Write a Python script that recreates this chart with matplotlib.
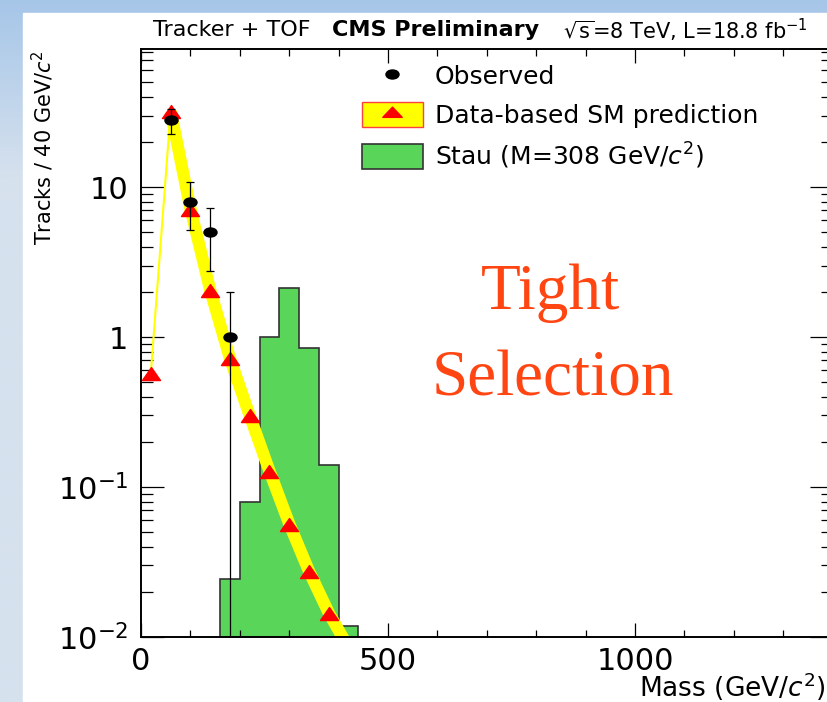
import numpy as np
import matplotlib as mpl
import matplotlib.pyplot as plt
from matplotlib.path import Path
from matplotlib.patches import Patch, Rectangle
from matplotlib.lines import Line2D
from matplotlib.ticker import FixedLocator, FixedFormatter, NullFormatter, MultipleLocator, LogLocator

plt.rcParams['font.family'] = ['DejaVu Sans']
plt.rcParams['mathtext.fontset'] = 'dejavusans'

# Beobachtete Spuren pro 40-GeV-Bin mit Poisson-Fehlern
obs_m = [60, 100, 140, 180]
obs_n = [28, 8, 5, 1]
obs_err = [5.3, 2.83, 2.24, 1.0]

# Datenbasierte SM-Vorhersage
pred_m = [20, 60, 100, 140, 180, 220, 260, 300, 340, 380, 420]
pred_n = [0.58, 32, 7.2, 2.06, 0.72, 0.30, 0.128, 0.057, 0.0275, 0.0145, 0.0085]

# Stau-Signal (M = 308 GeV/c^2) als Histogramm
stau_edges = [160, 200, 240, 280, 320, 360, 400, 440]
stau_n = [0.0243, 0.0798, 1.0, 2.13, 0.84, 0.140, 0.0118]

y_ticks = [0.01, 0.1, 1, 10]
y_labels = [r'$\mathdefault{10^{-2}}$', r'$\mathdefault{10^{-1}}$', '1', '10']
x_ticks = [0, 500, 1000]

green = '#59d55a'

W, H = 828, 702
fig = plt.figure(figsize=(W / 100, H / 100), dpi=100)

# Folienhintergrund: blauer Verlauf, darauf die weisse Leinwand
bg = fig.add_axes([0, 0, 1, 1], zorder=-10)
t = np.linspace(0, 1, 256)[:, None, None]
top_c = np.array(mpl.colors.to_rgb('#a6c6e8'))
low_c = np.array(mpl.colors.to_rgb('#d6e1ee'))
grad = top_c * (1 - np.clip(t * 4, 0, 1)) + low_c * np.clip(t * 4, 0, 1)
bg.imshow(np.repeat(grad, 4, axis=1), aspect='auto', extent=[0, 1, 0, 1])
bg.add_patch(Rectangle((23 / W, 0), 1, 1 - 13 / H, color='white'))
bg.set_xlim(0, 1)
bg.set_ylim(0, 1)
bg.axis('off')

x0, x1 = 141, 832.6
y0, y1 = 637, 48.5
ax = fig.add_axes([x0 / W, 1 - y0 / H, (x1 - x0) / W, (y0 - y1) / H])
ax.set_yscale('log')
ax.set_xlim(0, 1400)
ax.set_ylim(0.01, 84)

# Marker: Ellipse fuer Daten, Dreieck fuer Vorhersage
circ = Path.unit_circle()
dot = Path(circ.vertices * [1, 0.69], circ.codes)
tri = Path([(-1, -0.78), (1, -0.78), (0, 0.66), (-1, -0.78)],
           [Path.MOVETO, Path.LINETO, Path.LINETO, Path.CLOSEPOLY])
tri_leg = Path([(-1, -0.5), (1, -0.5), (0, 0.55), (-1, -0.5)],
               [Path.MOVETO, Path.LINETO, Path.LINETO, Path.CLOSEPOLY])

ax.stairs(stau_n, stau_edges, baseline=1e-4, fill=True, facecolor=green,
          edgecolor='#333333', lw=1.2, zorder=1)

ax.plot(pred_m[:2], pred_n[:2], color='#ffff00', lw=1.5, zorder=2)
ax.plot(pred_m[1:], pred_n[1:], color='#ffff00', lw=8.8,
        solid_joinstyle='round', solid_capstyle='butt', zorder=2)
ax.plot(pred_m, pred_n, ls='none', marker=tri, ms=13, color='#ff0000', zorder=3)

ax.errorbar(obs_m, obs_n, yerr=[obs_err, obs_err], fmt='none', ecolor='k',
            elinewidth=0.9, capsize=2.9, capthick=0.9, zorder=4)
ax.plot(obs_m, obs_n, ls='none', marker=dot, ms=9.4, color='k', zorder=5)

# Achsen im ROOT-Stil
for s in ax.spines.values():
    s.set_linewidth(1.4)
ax.xaxis.set_major_locator(FixedLocator(x_ticks))
ax.xaxis.set_minor_locator(MultipleLocator(100))
ax.yaxis.set_major_locator(FixedLocator(y_ticks))
ax.yaxis.set_major_formatter(FixedFormatter(y_labels))
ax.yaxis.set_minor_locator(LogLocator(base=10, subs=np.arange(2, 10)))
ax.yaxis.set_minor_formatter(NullFormatter())
ax.tick_params(which='both', direction='in', top=True, right=True, width=0.9,
               labelsize=22)
ax.tick_params(axis='y', which='major', length=16.5, pad=9)
ax.tick_params(axis='y', which='minor', length=8.6)
ax.tick_params(axis='x', which='major', length=10, pad=7)
ax.tick_params(axis='x', which='minor', length=5)

fig.text(43 / W, 1 - 50 / H, r'Tracks / 40 GeV/$c^{2}$', rotation=90,
         ha='center', va='top', fontsize=15)
fig.text(826 / W, 1 - 687 / H, r'Mass (GeV/$c^{2}$)', ha='right',
         va='center', fontsize=19)

# Kopfzeile
fig.text(153 / W, 1 - 30 / H, 'Tracker + TOF', ha='left', va='center', fontsize=16)
fig.text(332 / W, 1 - 30 / H, 'CMS Preliminary', ha='left', va='center',
         fontsize=16, fontweight='bold')
fig.text(563 / W, 1 - 30 / H, r'$\sqrt{\mathdefault{s}}$=8 TeV, L=18.8 fb$^{-1}$',
         ha='left', va='center', fontsize=15)

fig.text(551 / W, 1 - 309 / H, 'Tight', ha='center', va='baseline',
         fontsize=47, family='Liberation Serif', color='#ff4512')
fig.text(553 / W, 1 - 396 / H, 'Selection', ha='center', va='baseline',
         fontsize=47, family='Liberation Serif', color='#ff4512')

handles = [
    Line2D([], [], ls='none', marker=dot, ms=9.4, color='k'),
    (Patch(facecolor='#ffff00', edgecolor='#ff4040', lw=1.0),
     Line2D([], [], ls='none', marker=tri_leg, ms=14, color='#ff0000')),
    Patch(facecolor=green, edgecolor='#333333', lw=1.2),
]
labels = ['Observed', 'Data-based SM prediction', r'Stau (M=308 GeV/$c^{2}$)']
fs = 18 * 100 / 72
ax.legend(handles, labels, loc='upper left',
          bbox_to_anchor=(362 / W, 1 - 63 / H), bbox_transform=fig.transFigure,
          frameon=False, fontsize=18, numpoints=1, borderpad=0, borderaxespad=0,
          handlelength=61 / fs, handleheight=30 / fs, handletextpad=12 / fs,
          labelspacing=12.5 / fs)

fig.savefig('out.png', dpi=100)
